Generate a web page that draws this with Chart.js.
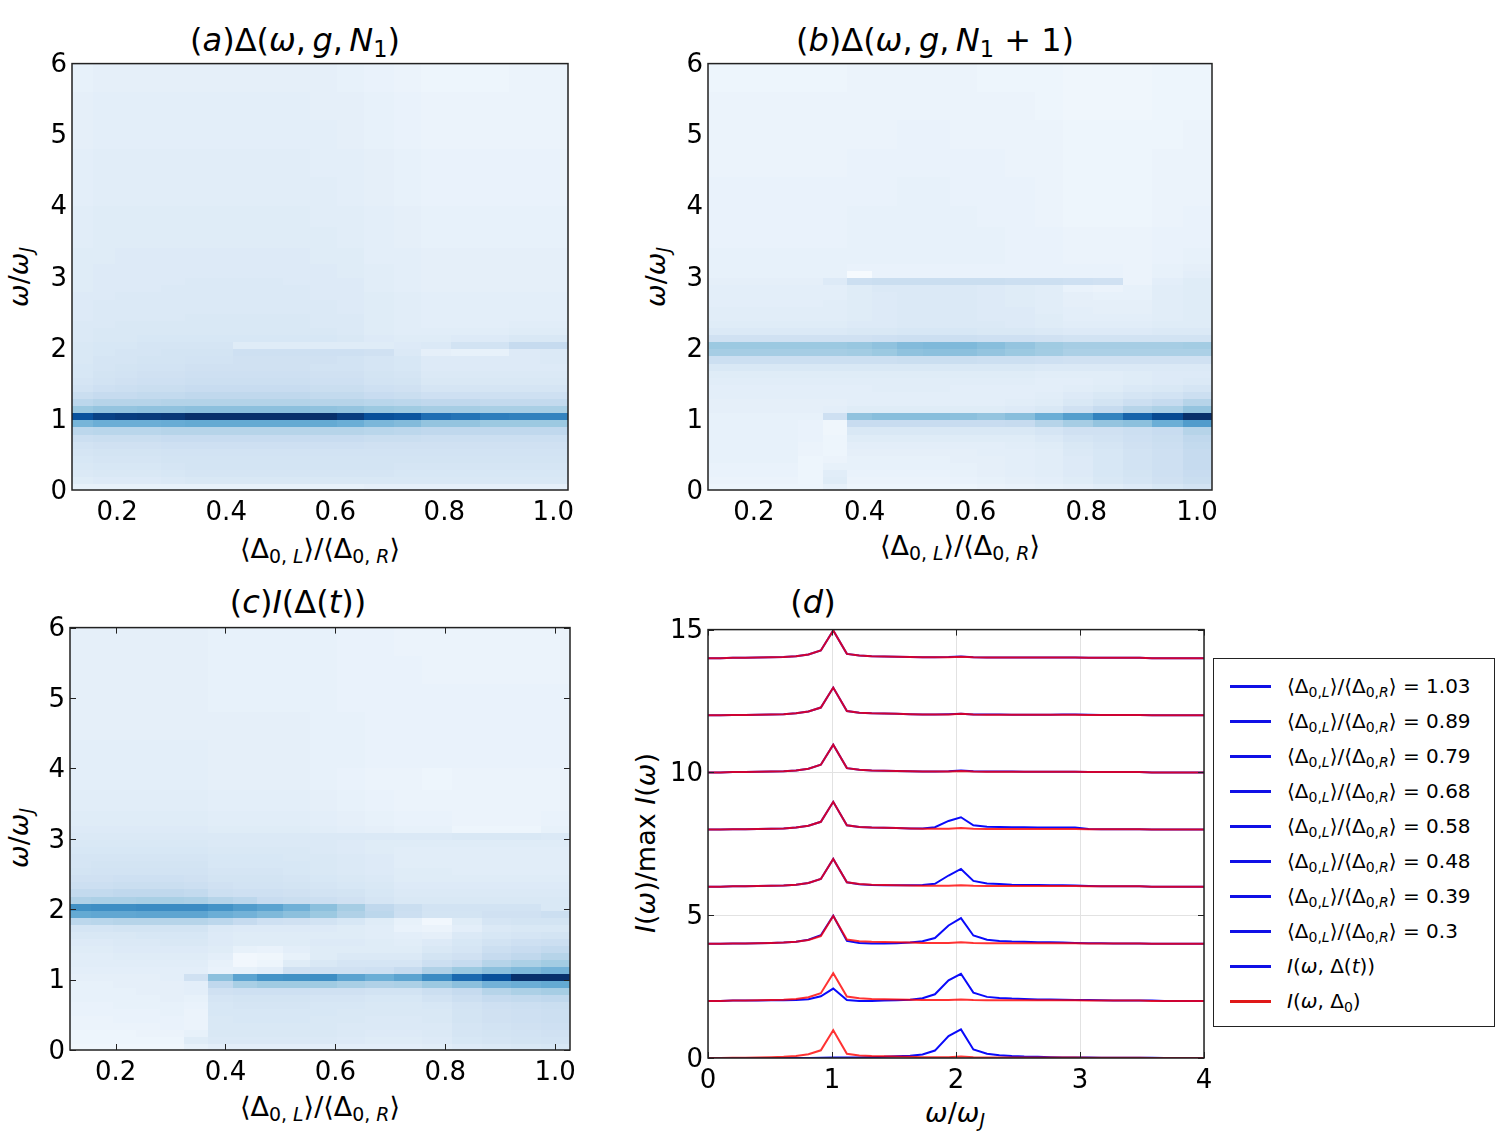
<!DOCTYPE html>
<html>
<head>
<meta charset="utf-8">
<script src="https://cdn.jsdelivr.net/npm/chart.js@4.4.1/dist/chart.umd.min.js"></script>
<style>
  body { margin: 0; background: #fff; width: 1499px; height: 1138px; position: relative; overflow: hidden; font-family: "DejaVu Sans", sans-serif; }
  canvas { position: absolute; }
  .txt { position: absolute; transform: translate(-50%, -50%); white-space: nowrap; color: #000; font-family: "DejaVu Sans", sans-serif; }
  .rot { transform: translate(-50%, -50%) rotate(-90deg); }
  .title { font-size: 32px; }
  .axl { font-size: 27px; }
  i { font-style: italic; }
  sub { font-size: 70%; vertical-align: -0.28em; line-height: 0; }
  #legend { position: absolute; left: 1213px; top: 658px; width: 282px; height: 369px; border: 1.5px solid #222; background: #fff; box-sizing: border-box; }
  .lg-line { position: absolute; left: 16px; width: 41px; height: 2.5px; }
  .lg-text { position: absolute; left: 73px; font-size: 20px; transform: translateY(-50%); white-space: nowrap; }
</style>
</head>
<body>

<div class="txt title" style="left:295px;top:40px">(<i>a</i>)Δ(<i>ω</i>,&#8201;<i>g</i>,&#8201;<i>N</i><sub>1</sub>)</div>
<div class="txt title" style="left:935px;top:40px">(<i>b</i>)Δ(<i>ω</i>,&#8201;<i>g</i>,&#8201;<i>N</i><sub>1</sub> + 1)</div>
<div class="txt title" style="left:298px;top:602px">(<i>c</i>)<i>I</i>(Δ(<i>t</i>))</div>
<div class="txt title" style="left:813px;top:602px">(<i>d</i>)</div>

<div class="txt axl" style="left:320px;top:548px">⟨Δ<sub>0, <i>L</i></sub>⟩/⟨Δ<sub>0, <i>R</i></sub>⟩</div>
<div class="txt axl" style="left:960px;top:545px">⟨Δ<sub>0, <i>L</i></sub>⟩/⟨Δ<sub>0, <i>R</i></sub>⟩</div>
<div class="txt axl" style="left:320px;top:1106px">⟨Δ<sub>0, <i>L</i></sub>⟩/⟨Δ<sub>0, <i>R</i></sub>⟩</div>
<div class="txt axl" style="left:955px;top:1112px"><i>ω</i>/<i>ω</i><sub><i>J</i></sub></div>

<div class="txt axl rot" style="left:18px;top:277px"><i>ω</i>/<i>ω</i><sub><i>J</i></sub></div>
<div class="txt axl rot" style="left:655px;top:277px"><i>ω</i>/<i>ω</i><sub><i>J</i></sub></div>
<div class="txt axl rot" style="left:18px;top:838px"><i>ω</i>/<i>ω</i><sub><i>J</i></sub></div>
<div class="txt axl rot" style="left:645px;top:843px"><i>I</i>(<i>ω</i>)/max <i>I</i>(<i>ω</i>)</div>

<div id="legend"></div>

<script>
// column edges of the heat maps, <Δ0,L>/<Δ0,R>
const ratioEdges = [0.117, 0.155, 0.195, 0.237, 0.280, 0.325, 0.368, 0.413, 0.458, 0.505,
  0.554, 0.603, 0.653, 0.707, 0.758, 0.812, 0.866, 0.919, 0.975, 1.027];
// row edges of the heat maps, ω/ωJ
const omegaEdges = [0, 0.08, 0.18, 0.28, 0.38, 0.48, 0.58, 0.68, 0.78, 0.88, 0.98, 1.08,
  1.18, 1.28, 1.38, 1.48, 1.58, 1.68, 1.78, 1.88, 1.98, 2.08, 2.18, 2.28, 2.38, 2.48,
  2.58, 2.68, 2.78, 2.88, 2.98, 3.08, 3.18, 3.4, 3.7, 4.0, 4.4, 4.8, 5.2, 5.6, 6.0];
const ratioTicks = [0.2, 0.4, 0.6, 0.8, 1.0];
const omegaTicks = [0, 1, 2, 3, 4, 5, 6];

// intensities (0-100), one row per omega band, bottom row first
const heatA = [
  [8, 8, 8, 8, 8, 8, 8, 8, 8, 8, 8, 8, 9, 9, 9, 9, 9, 9, 9],
  [12, 13, 13, 13, 14, 15, 15, 15, 15, 15, 15, 15, 15, 15, 15, 15, 15, 15, 15],
  [14, 15, 15, 15, 16, 17, 17, 17, 17, 17, 17, 17, 17, 16, 16, 16, 16, 16, 16],
  [15, 16, 16, 16, 17, 18, 18, 18, 18, 18, 18, 18, 18, 17, 17, 17, 17, 17, 17],
  [16, 17, 17, 17, 18, 18, 18, 18, 18, 18, 18, 18, 18, 18, 18, 18, 18, 18, 18],
  [17, 18, 18, 18, 19, 19, 19, 19, 19, 19, 19, 19, 19, 19, 19, 19, 19, 19, 19],
  [19, 20, 20, 20, 21, 21, 21, 21, 21, 21, 21, 21, 20, 20, 20, 20, 20, 20, 20],
  [22, 23, 23, 23, 24, 24, 24, 24, 24, 24, 24, 24, 23, 23, 22, 22, 22, 22, 22],
  [28, 29, 29, 29, 30, 30, 30, 30, 30, 30, 30, 30, 29, 28, 27, 27, 27, 27, 27],
  [47, 50, 50, 50, 51, 52, 52, 52, 52, 52, 52, 50, 46, 44, 40, 40, 38, 38, 38],
  [87, 93, 95, 96, 97, 100, 100, 100, 100, 100, 100, 95, 88, 86, 76, 74, 70, 69, 68],
  [38, 40, 40, 41, 41, 42, 42, 42, 42, 42, 41, 40, 38, 37, 35, 35, 34, 34, 34],
  [28, 30, 30, 30, 31, 31, 31, 31, 31, 31, 30, 30, 29, 28, 27, 27, 26, 26, 26],
  [23, 25, 25, 26, 26, 27, 27, 27, 27, 27, 26, 26, 24, 23, 21, 21, 21, 21, 21],
  [19, 21, 22, 23, 23, 24, 24, 24, 24, 24, 23, 23, 21, 20, 17, 17, 17, 17, 17],
  [17, 19, 20, 21, 21, 22, 22, 22, 22, 22, 21, 21, 19, 18, 15, 15, 15, 15, 15],
  [16, 18, 19, 20, 20, 21, 21, 21, 21, 21, 20, 20, 18, 17, 14, 14, 14, 14, 14],
  [16, 17, 18, 19, 19, 20, 20, 20, 20, 20, 19, 19, 17, 16, 13, 13, 13, 13, 13],
  [15, 17, 17, 18, 18, 19, 19, 20, 20, 20, 20, 19, 17, 16, 13, 13, 13, 13, 14],
  [15, 16, 17, 17, 18, 18, 18, 21, 21, 21, 21, 21, 20, 14, 9, 8, 8, 13, 14],
  [15, 16, 16, 17, 17, 17, 17, 12, 12, 12, 12, 12, 12, 13, 14, 19, 19, 25, 25],
  [14, 15, 15, 16, 16, 16, 16, 16, 16, 16, 16, 15, 13, 12, 12, 13, 13, 15, 15],
  [14, 15, 15, 15, 15, 15, 15, 15, 15, 15, 15, 14, 12, 11, 11, 11, 11, 12, 12],
  [14, 14, 15, 15, 15, 15, 15, 15, 15, 15, 14, 14, 12, 11, 10, 10, 10, 11, 11],
  [13, 14, 14, 14, 14, 15, 15, 15, 15, 15, 14, 14, 12, 11, 10, 10, 10, 10, 10],
  [13, 14, 14, 14, 14, 14, 14, 14, 14, 14, 14, 13, 12, 11, 10, 10, 10, 10, 10],
  [13, 14, 14, 14, 14, 14, 14, 14, 14, 14, 14, 13, 12, 11, 10, 10, 10, 10, 10],
  [13, 13, 14, 14, 14, 14, 14, 14, 14, 14, 13, 13, 12, 11, 10, 10, 10, 10, 10],
  [12, 13, 13, 13, 14, 14, 14, 14, 14, 14, 13, 13, 11, 10, 9, 9, 9, 9, 9],
  [12, 13, 13, 13, 13, 14, 14, 14, 14, 13, 13, 13, 11, 10, 9, 9, 9, 9, 9],
  [12, 13, 13, 13, 13, 13, 13, 13, 13, 13, 13, 12, 11, 10, 9, 9, 9, 9, 9],
  [12, 13, 13, 13, 13, 13, 13, 13, 13, 13, 13, 12, 11, 10, 9, 9, 9, 9, 9],
  [12, 12, 13, 13, 13, 13, 13, 13, 13, 13, 12, 12, 10, 10, 9, 9, 9, 9, 9],
  [11, 12, 12, 12, 12, 12, 12, 12, 12, 12, 12, 11, 10, 9, 8, 8, 8, 8, 8],
  [11, 12, 12, 12, 12, 12, 12, 12, 12, 12, 11, 11, 10, 9, 8, 8, 8, 8, 8],
  [10, 11, 11, 11, 11, 11, 11, 11, 11, 11, 11, 10, 9, 8, 7, 7, 7, 7, 7],
  [10, 11, 11, 11, 11, 11, 11, 11, 11, 11, 10, 10, 9, 8, 7, 7, 7, 7, 7],
  [9, 10, 10, 10, 10, 10, 10, 10, 10, 10, 10, 9, 8, 7, 6, 6, 6, 6, 6],
  [9, 10, 10, 10, 10, 10, 10, 10, 10, 10, 9, 9, 8, 7, 6, 6, 6, 6, 6],
  [8, 9, 9, 9, 9, 9, 9, 9, 9, 9, 9, 8, 7, 6, 5, 5, 5, 6, 6]
];

const heatB = [
  [5, 5, 5, 5, 5, 8, 5, 5, 5, 5, 5, 6, 7, 8, 9, 11, 13, 16, 19],
  [6, 6, 6, 6, 5, 12, 6, 6, 6, 6, 7, 8, 9, 10, 12, 15, 17, 20, 23],
  [7, 7, 7, 7, 5, 11, 7, 7, 7, 7, 8, 9, 10, 11, 13, 16, 18, 21, 24],
  [7, 7, 7, 7, 5, 8, 8, 8, 8, 8, 8, 9, 10, 11, 13, 16, 19, 21, 25],
  [8, 8, 8, 8, 5, 6, 8, 8, 8, 8, 9, 9, 10, 11, 13, 16, 19, 21, 25],
  [8, 8, 8, 8, 6, 5, 9, 9, 9, 9, 9, 10, 10, 11, 14, 16, 19, 21, 25],
  [8, 8, 8, 8, 6, 5, 10, 10, 10, 10, 10, 10, 11, 12, 15, 17, 20, 22, 26],
  [8, 8, 8, 8, 7, 5, 12, 12, 12, 12, 12, 12, 12, 14, 17, 19, 21, 23, 27],
  [8, 8, 8, 8, 7, 4, 15, 15, 15, 15, 15, 15, 15, 17, 20, 20, 22, 24, 30],
  [8, 8, 8, 8, 7, 4, 24, 24, 24, 24, 24, 24, 25, 30, 35, 40, 42, 50, 58],
  [8, 8, 8, 8, 8, 21, 41, 43, 43, 43, 42, 40, 43, 50, 57, 68, 80, 90, 100],
  [9, 9, 9, 9, 9, 10, 12, 12, 12, 12, 12, 12, 13, 15, 20, 25, 30, 33, 40],
  [9, 9, 9, 9, 9, 9, 10, 10, 10, 10, 10, 10, 11, 12, 15, 18, 22, 25, 30],
  [10, 10, 10, 10, 10, 10, 10, 10, 10, 10, 10, 10, 10, 11, 13, 15, 17, 19, 22],
  [10, 10, 10, 10, 10, 10, 10, 11, 11, 11, 10, 10, 10, 10, 11, 12, 14, 15, 17],
  [11, 11, 11, 11, 11, 11, 11, 11, 11, 11, 11, 11, 11, 10, 10, 11, 12, 13, 14],
  [12, 12, 12, 12, 12, 12, 12, 12, 12, 12, 12, 12, 12, 11, 11, 11, 12, 13, 13],
  [15, 15, 15, 15, 15, 15, 15, 15, 15, 15, 15, 15, 15, 14, 14, 14, 14, 14, 14],
  [22, 22, 22, 22, 22, 22, 22, 22, 23, 23, 23, 22, 22, 21, 20, 20, 20, 20, 20],
  [35, 35, 35, 35, 35, 35, 36, 38, 41, 42, 42, 40, 38, 36, 33, 33, 33, 33, 33],
  [38, 38, 38, 38, 38, 38, 39, 41, 44, 45, 45, 43, 40, 37, 35, 35, 35, 35, 36],
  [20, 20, 20, 20, 20, 20, 20, 21, 22, 22, 22, 21, 21, 20, 19, 19, 19, 19, 19],
  [14, 14, 14, 14, 14, 14, 15, 15, 16, 16, 16, 15, 15, 14, 13, 13, 13, 14, 14],
  [12, 12, 12, 12, 12, 12, 13, 13, 14, 14, 14, 14, 13, 12, 11, 11, 11, 12, 12],
  [11, 11, 11, 11, 11, 11, 12, 13, 14, 14, 14, 13, 13, 12, 10, 10, 10, 11, 12],
  [11, 11, 11, 11, 11, 11, 12, 13, 14, 14, 14, 13, 13, 11, 10, 9, 9, 11, 12],
  [10, 10, 10, 10, 10, 11, 12, 13, 14, 14, 14, 13, 12, 11, 9, 9, 9, 11, 12],
  [10, 10, 10, 10, 10, 10, 12, 13, 14, 14, 14, 13, 12, 11, 9, 8, 8, 11, 12],
  [10, 10, 10, 10, 10, 10, 12, 14, 14, 14, 14, 13, 12, 11, 7, 6, 8, 11, 12],
  [9, 9, 9, 9, 9, 13, 22, 23, 23, 23, 23, 23, 22, 22, 21, 20, 6, 10, 12],
  [8, 8, 8, 8, 8, 8, 1, 7, 7, 7, 7, 7, 7, 7, 7, 7, 6, 8, 10],
  [8, 8, 8, 8, 8, 8, 7, 7, 7, 7, 7, 7, 7, 7, 7, 7, 6, 8, 9],
  [8, 8, 8, 8, 8, 8, 8, 8, 8, 8, 8, 8, 7, 7, 6, 6, 6, 7, 8],
  [7, 7, 7, 7, 7, 7, 8, 8, 8, 8, 8, 8, 7, 7, 6, 6, 6, 7, 7],
  [7, 7, 7, 7, 7, 7, 8, 8, 8, 8, 8, 7, 7, 6, 5, 5, 5, 6, 7],
  [7, 7, 7, 7, 7, 7, 7, 7, 8, 8, 7, 7, 7, 6, 5, 5, 5, 6, 6],
  [6, 6, 6, 6, 6, 6, 7, 7, 7, 7, 7, 7, 6, 6, 5, 5, 5, 6, 6],
  [6, 6, 6, 6, 6, 6, 6, 6, 7, 7, 6, 6, 6, 6, 5, 5, 5, 5, 6],
  [6, 6, 6, 6, 6, 6, 6, 6, 6, 6, 6, 6, 6, 5, 4, 4, 4, 5, 5],
  [5, 5, 5, 5, 5, 5, 6, 6, 6, 6, 6, 5, 5, 5, 4, 4, 4, 5, 5]
];

const heatC = [
  [4, 4, 4, 4, 4, 8, 10, 10, 10, 10, 10, 10, 10, 10, 11, 13, 14, 15, 16],
  [5, 5, 5, 5, 5, 12, 14, 14, 14, 14, 14, 13, 12, 12, 13, 16, 17, 18, 19],
  [5, 5, 5, 6, 6, 8, 15, 15, 15, 15, 15, 14, 13, 13, 14, 17, 18, 19, 20],
  [6, 6, 6, 6, 7, 6, 15, 15, 15, 15, 15, 14, 14, 14, 14, 17, 19, 20, 21],
  [6, 6, 7, 7, 7, 6, 15, 16, 16, 16, 15, 15, 14, 14, 15, 18, 20, 21, 22],
  [7, 7, 7, 7, 8, 6, 16, 16, 16, 16, 16, 15, 15, 15, 15, 18, 20, 21, 22],
  [7, 7, 8, 8, 8, 7, 16, 17, 17, 17, 16, 16, 15, 15, 16, 19, 21, 22, 23],
  [8, 8, 8, 8, 9, 8, 17, 18, 18, 18, 17, 17, 16, 16, 19, 22, 25, 26, 27],
  [8, 8, 8, 9, 9, 10, 20, 21, 21, 21, 20, 20, 19, 19, 22, 25, 30, 33, 35],
  [8, 8, 9, 9, 9, 10, 27, 34, 37, 37, 37, 34, 32, 33, 38, 42, 48, 50, 52],
  [9, 9, 9, 9, 10, 20, 42, 55, 62, 63, 64, 55, 50, 55, 65, 78, 88, 100, 100],
  [10, 10, 10, 10, 10, 10, 7, 8, 10, 20, 20, 20, 21, 25, 32, 38, 42, 45, 48],
  [11, 11, 11, 11, 11, 11, 8, 3, 5, 12, 15, 17, 17, 17, 22, 25, 30, 33, 36],
  [11, 11, 12, 12, 12, 12, 10, 3, 4, 8, 12, 14, 14, 14, 18, 20, 25, 27, 30],
  [12, 12, 13, 13, 13, 13, 12, 8, 7, 10, 12, 12, 12, 12, 15, 17, 22, 24, 26],
  [13, 13, 14, 14, 15, 15, 13, 12, 12, 12, 13, 13, 12, 11, 13, 16, 19, 21, 22],
  [15, 15, 15, 16, 16, 16, 13, 12, 12, 12, 12, 12, 11, 10, 9, 14, 16, 17, 18],
  [17, 17, 18, 18, 18, 18, 14, 13, 13, 13, 13, 12, 11, 7, 6, 10, 14, 15, 15],
  [28, 29, 30, 30, 30, 30, 28, 25, 21, 20, 19, 16, 12, 8, 3, 12, 17, 18, 18],
  [52, 53, 53, 54, 54, 54, 50, 48, 45, 42, 38, 32, 28, 22, 18, 18, 20, 20, 22],
  [63, 64, 64, 65, 65, 65, 62, 58, 55, 49, 42, 35, 27, 23, 19, 19, 19, 19, 15],
  [32, 33, 33, 34, 34, 33, 30, 28, 24, 23, 22, 20, 17, 15, 15, 15, 15, 15, 15],
  [26, 26, 27, 27, 27, 26, 22, 21, 21, 20, 19, 18, 16, 14, 14, 14, 14, 14, 14],
  [22, 22, 23, 23, 23, 22, 20, 19, 19, 18, 17, 16, 15, 13, 13, 13, 13, 13, 13],
  [20, 20, 21, 21, 21, 20, 18, 18, 18, 17, 16, 15, 14, 12, 12, 12, 12, 12, 12],
  [18, 19, 19, 19, 19, 19, 17, 17, 17, 16, 15, 14, 13, 12, 12, 11, 11, 11, 11],
  [17, 18, 18, 18, 18, 18, 16, 16, 16, 16, 15, 14, 13, 11, 11, 11, 11, 11, 11],
  [17, 17, 17, 17, 17, 17, 16, 16, 16, 15, 15, 14, 13, 11, 11, 11, 11, 11, 11],
  [16, 16, 16, 16, 16, 16, 15, 15, 15, 15, 14, 13, 12, 11, 11, 11, 11, 11, 11],
  [15, 15, 15, 15, 15, 15, 14, 14, 14, 14, 14, 13, 12, 12, 12, 12, 12, 12, 12],
  [14, 14, 14, 14, 14, 14, 14, 14, 14, 14, 14, 14, 14, 14, 14, 15, 15, 15, 14],
  [13, 13, 13, 13, 13, 13, 12, 12, 12, 12, 11, 10, 9, 8, 8, 5, 5, 5, 8],
  [12, 12, 12, 12, 12, 12, 11, 11, 11, 11, 10, 9, 8, 7, 7, 6, 6, 6, 7],
  [11, 11, 11, 11, 11, 11, 10, 10, 10, 10, 9, 8, 7, 6, 6, 6, 6, 6, 6],
  [10, 10, 10, 10, 10, 10, 9, 9, 9, 9, 8, 7, 6, 6, 5, 6, 6, 6, 6],
  [10, 10, 10, 10, 10, 10, 9, 9, 9, 9, 8, 8, 7, 7, 7, 7, 7, 7, 7],
  [9, 9, 9, 9, 9, 9, 9, 9, 9, 9, 8, 8, 7, 7, 7, 7, 7, 7, 7],
  [9, 9, 9, 9, 9, 9, 8, 8, 8, 8, 8, 7, 7, 7, 7, 7, 7, 7, 7],
  [9, 9, 9, 9, 9, 9, 8, 8, 8, 8, 8, 7, 7, 7, 6, 6, 6, 6, 6],
  [9, 9, 9, 9, 9, 9, 8, 8, 8, 8, 8, 7, 7, 6, 6, 6, 6, 6, 6]
];

// panel (d): spectra sampled on omegaSamples, normalised to max 1
const omegaSamples = [0, 0.1, 0.2, 0.3, 0.4, 0.51, 0.61, 0.71, 0.81, 0.91, 1.01, 1.12, 1.22,
  1.32, 1.42, 1.52, 1.63, 1.73, 1.83, 1.94, 2.04, 2.14, 2.25, 2.35, 2.45, 2.55, 2.66,
  2.76, 2.86, 2.96, 3.07, 3.17, 3.27, 3.37, 3.48, 3.58, 3.68, 3.78, 3.89, 4.0];
const ratioLabels = ['1.03', '0.89', '0.79', '0.68', '0.58', '0.48', '0.39', '0.3'];
const offsets = [14, 12, 10, 8, 6, 4, 2, 0];
const redSpectrum = [0, 0, 0.01, 0.01, 0.02, 0.03, 0.04, 0.07, 0.13, 0.27, 0.97, 0.15, 0.09,
  0.07, 0.06, 0.05, 0.04, 0.03, 0.03, 0.03, 0.05, 0.03, 0.02, 0.02, 0.02, 0.02, 0.02,
  0.02, 0.02, 0.02, 0.01, 0.01, 0.01, 0.01, 0.01, 0, 0, 0, 0, 0];
const blue103 = [0, 0, 0.01, 0.01, 0.02, 0.03, 0.04, 0.07, 0.13, 0.27, 0.97, 0.15, 0.09,
  0.07, 0.06, 0.05, 0.04, 0.03, 0.03, 0.04, 0.06, 0.03, 0.02, 0.02, 0.02, 0.02, 0.02,
  0.02, 0.02, 0.02, 0.01, 0.01, 0.01, 0.01, 0.01, 0, 0, 0, 0, 0];
const blue089 = [0, 0, 0.01, 0.01, 0.02, 0.03, 0.04, 0.07, 0.13, 0.27, 0.97, 0.15, 0.09,
  0.07, 0.06, 0.05, 0.04, 0.03, 0.03, 0.04, 0.05, 0.03, 0.03, 0.03, 0.02, 0.02, 0.02,
  0.02, 0.03, 0.03, 0.02, 0.01, 0.01, 0.01, 0.01, 0, 0, 0, 0, 0];
const blue079 = [0, 0, 0.01, 0.01, 0.02, 0.03, 0.04, 0.07, 0.13, 0.27, 0.97, 0.15, 0.09,
  0.07, 0.06, 0.05, 0.04, 0.03, 0.03, 0.04, 0.07, 0.04, 0.03, 0.03, 0.03, 0.02, 0.02,
  0.02, 0.02, 0.02, 0.01, 0.01, 0.01, 0.01, 0.01, 0, 0, 0, 0, 0];
const blue068 = [0, 0, 0.01, 0.01, 0.02, 0.03, 0.04, 0.07, 0.13, 0.27, 0.97, 0.15, 0.09,
  0.07, 0.06, 0.05, 0.04, 0.04, 0.08, 0.30, 0.43, 0.15, 0.10, 0.09, 0.08, 0.08, 0.07,
  0.07, 0.07, 0.07, 0.02, 0.01, 0.01, 0.01, 0.01, 0, 0, 0, 0, 0];
const blue058 = [0, 0, 0.01, 0.01, 0.02, 0.03, 0.04, 0.07, 0.13, 0.27, 0.97, 0.15, 0.08,
  0.06, 0.05, 0.05, 0.05, 0.06, 0.10, 0.39, 0.62, 0.20, 0.11, 0.09, 0.07, 0.06, 0.06,
  0.05, 0.05, 0.04, 0.02, 0.01, 0.01, 0.01, 0.01, 0, 0, 0, 0, 0];
const blue048 = [0, 0, 0.01, 0.01, 0.02, 0.03, 0.04, 0.07, 0.14, 0.30, 0.98, 0.10, 0.03,
  0.01, 0.01, 0.02, 0.04, 0.09, 0.20, 0.64, 0.90, 0.29, 0.14, 0.10, 0.08, 0.07, 0.05,
  0.05, 0.04, 0.03, 0.02, 0.02, 0.01, 0.01, 0.01, 0, 0, 0, 0, 0];
const blue039 = [0, 0, 0.01, 0.01, 0.01, 0.02, 0.02, 0.03, 0.06, 0.16, 0.43, 0.03, 0,
  0, 0.01, 0.02, 0.04, 0.09, 0.23, 0.72, 0.95, 0.29, 0.14, 0.10, 0.08, 0.07, 0.05,
  0.05, 0.04, 0.03, 0.03, 0.02, 0.01, 0.01, 0.01, 0.01, 0, 0, 0, 0];
const blue030 = [0, 0, 0, 0, 0, 0, 0, 0, 0, 0.01, 0.02, 0.02, 0.02,
  0.03, 0.04, 0.06, 0.08, 0.12, 0.26, 0.77, 1.0, 0.30, 0.15, 0.10, 0.07, 0.05, 0.04,
  0.03, 0.02, 0.02, 0.02, 0.01, 0.01, 0.01, 0.01, 0.01, 0, 0, 0, 0];
const blueSpectra = [blue103, blue089, blue079, blue068, blue058, blue048, blue039, blue030];

const FONT = 'DejaVu Sans';
const BLUE = 'rgb(10, 10, 250)';
const RED = 'rgba(255, 0, 0, 0.8)';

// matplotlib "Blues"
const BLUES = [[247, 251, 255], [222, 235, 247], [198, 219, 239], [158, 202, 225], [107, 174, 214],
  [66, 146, 198], [33, 113, 181], [8, 81, 156], [8, 48, 107]];
function blues(v) {
  v = Math.max(0, Math.min(1, v));
  const t = v * 8;
  const i = Math.min(7, Math.floor(t));
  const f = t - i;
  const a = BLUES[i], b = BLUES[i + 1];
  return `rgb(${Math.round(a[0] + (b[0] - a[0]) * f)},${Math.round(a[1] + (b[1] - a[1]) * f)},${Math.round(a[2] + (b[2] - a[2]) * f)})`;
}

function buildCells(matrix) {
  const cells = [];
  matrix.forEach((row, r) => row.forEach((v, c) => {
    cells.push({
      x: (ratioEdges[c] + ratioEdges[c + 1]) / 2,
      y: (omegaEdges[r] + omegaEdges[r + 1]) / 2,
      x0: ratioEdges[c], x1: ratioEdges[c + 1],
      y0: omegaEdges[r], y1: omegaEdges[r + 1], v
    });
  }));
  return cells;
}

const heatPlugin = {
  id: 'heat',
  beforeDatasetsDraw(chart) {
    const ds = chart.data.datasets[0];
    if (!ds.heat) return;
    const { ctx, chartArea } = chart;
    const xs = chart.scales.x, ys = chart.scales.y;
    ctx.save();
    ctx.beginPath();
    ctx.rect(chartArea.left, chartArea.top, chartArea.right - chartArea.left, chartArea.bottom - chartArea.top);
    ctx.clip();
    ds.data.forEach((c) => {
      const l = Math.round(xs.getPixelForValue(c.x0));
      const r = Math.round(xs.getPixelForValue(c.x1));
      const t = Math.round(ys.getPixelForValue(c.y1));
      const b = Math.round(ys.getPixelForValue(c.y0));
      ctx.fillStyle = blues(c.v / 100);
      ctx.fillRect(l, t, r - l, b - t);
    });
    ctx.restore();
  }
};

const framePlugin = {
  id: 'frame',
  afterDraw(chart, args, opts) {
    const { ctx, chartArea: a } = chart;
    ctx.save();
    ctx.strokeStyle = '#222';
    if (opts.inTicks) {
      ctx.lineWidth = 1;
      ctx.beginPath();
      chart.scales.x.ticks.forEach((t) => {
        const px = Math.round(chart.scales.x.getPixelForValue(t.value)) + 0.5;
        ctx.moveTo(px, a.bottom); ctx.lineTo(px, a.bottom - 6);
        ctx.moveTo(px, a.top); ctx.lineTo(px, a.top + 6);
      });
      chart.scales.y.ticks.forEach((t) => {
        const py = Math.round(chart.scales.y.getPixelForValue(t.value)) + 0.5;
        ctx.moveTo(a.left, py); ctx.lineTo(a.left + 6, py);
        ctx.moveTo(a.right, py); ctx.lineTo(a.right - 6, py);
      });
      ctx.stroke();
    }
    ctx.lineWidth = 1.5;
    ctx.strokeRect(a.left, a.top, a.right - a.left, a.bottom - a.top);
    ctx.restore();
  }
};

function makeCanvas(left, top, w, h) {
  const c = document.createElement('canvas');
  c.width = w; c.height = h;
  c.style.left = left + 'px'; c.style.top = top + 'px';
  c.style.width = w + 'px'; c.style.height = h + 'px';
  document.body.appendChild(c);
  return c;
}

function axis(min, max, ticks, fmt, fit, gridColor, isY) {
  return {
    type: 'linear', min, max,
    afterBuildTicks: (s) => { s.ticks = ticks.map((v) => ({ value: v })); },
    afterFit: fit,
    ticks: { callback: fmt, autoSkip: false, maxRotation: 0, padding: isY ? 5 : 8, labelOffset: isY ? 2 : 0,
      color: '#000', font: { family: FONT, size: 26 } },
    grid: { display: !!gridColor, color: gridColor || 'transparent', drawTicks: false, lineWidth: 1 },
    border: { display: false }
  };
}

function heatPanel(left, top, w, h, matrix, inTicks) {
  return new Chart(makeCanvas(left, top, w, h), {
    type: 'scatter',
    data: { datasets: [{ data: buildCells(matrix), heat: true, pointRadius: 0, pointHoverRadius: 0 }] },
    options: {
      responsive: false, animation: false, events: [],
      layout: { padding: { top: 20, right: 20, left: 0, bottom: 0 } },
      plugins: { legend: { display: false }, tooltip: { enabled: false }, frame: { inTicks } },
      scales: {
        x: axis(ratioEdges[0], ratioEdges[ratioEdges.length - 1], ratioTicks, (v) => v.toFixed(1), (s) => { s.height = 40; }),
        y: axis(0, 6, omegaTicks, (v) => String(v), (s) => { s.width = 50; }, null, true)
      }
    },
    plugins: [heatPlugin, framePlugin]
  });
}

heatPanel(22, 43, 566, 487, heatA, false);
heatPanel(658, 43, 574, 487, heatB, false);
heatPanel(20, 607, 570, 483, heatC, true);

// panel (d)
const lineSets = [];
blueSpectra.forEach((spec, k) => {
  lineSets.push({
    label: '⟨Δ0,L⟩/⟨Δ0,R⟩ = ' + ratioLabels[k],
    data: omegaSamples.map((w, i) => ({ x: w, y: spec[i] + offsets[k] })),
    borderColor: BLUE, borderWidth: 2, order: 1
  });
  lineSets.push({
    label: 'I(ω,Δ0)',
    data: omegaSamples.map((w, i) => ({ x: w, y: redSpectrum[i] + offsets[k] })),
    borderColor: RED, borderWidth: 2, order: 0
  });
});

new Chart(makeCanvas(648, 609, 576, 489), {
  type: 'scatter',
  data: { datasets: lineSets.map((d) => Object.assign(d, { showLine: true, pointRadius: 0, pointHoverRadius: 0, tension: 0, fill: false })) },
  options: {
    responsive: false, animation: false, events: [],
    layout: { padding: { top: 20, right: 20, left: 0, bottom: 0 } },
    plugins: { legend: { display: false }, tooltip: { enabled: false }, frame: { inTicks: true } },
    scales: {
      x: axis(0, 4, [0, 1, 2, 3, 4], (v) => String(v), (s) => { s.height = 40; }, '#e2e2e2'),
      y: axis(0, 15, [0, 5, 10, 15], (v) => String(v), (s) => { s.width = 60; }, '#e2e2e2', true)
    }
  },
  plugins: [framePlugin]
});

// legend
const legend = document.getElementById('legend');
const ratioText = (r) => `⟨Δ<sub>0,<i>L</i></sub>⟩/⟨Δ<sub>0,<i>R</i></sub>⟩ = ${r}`;
const entries = ratioLabels.map((r) => ({ html: ratioText(r), color: '#1010e6' }))
  .concat([{ html: '<i>I</i>(<i>ω</i>, Δ(<i>t</i>))', color: '#1010e6' },
           { html: '<i>I</i>(<i>ω</i>, Δ<sub>0</sub>)', color: '#e01818' }]);
entries.forEach((e, i) => {
  const y = 27 + i * 35;
  const ln = document.createElement('div');
  ln.className = 'lg-line';
  ln.style.top = (y - 1) + 'px';
  ln.style.background = e.color;
  legend.appendChild(ln);
  const tx = document.createElement('div');
  tx.className = 'lg-text';
  tx.style.top = y + 'px';
  tx.innerHTML = e.html;
  legend.appendChild(tx);
});
</script>
</body>
</html>
